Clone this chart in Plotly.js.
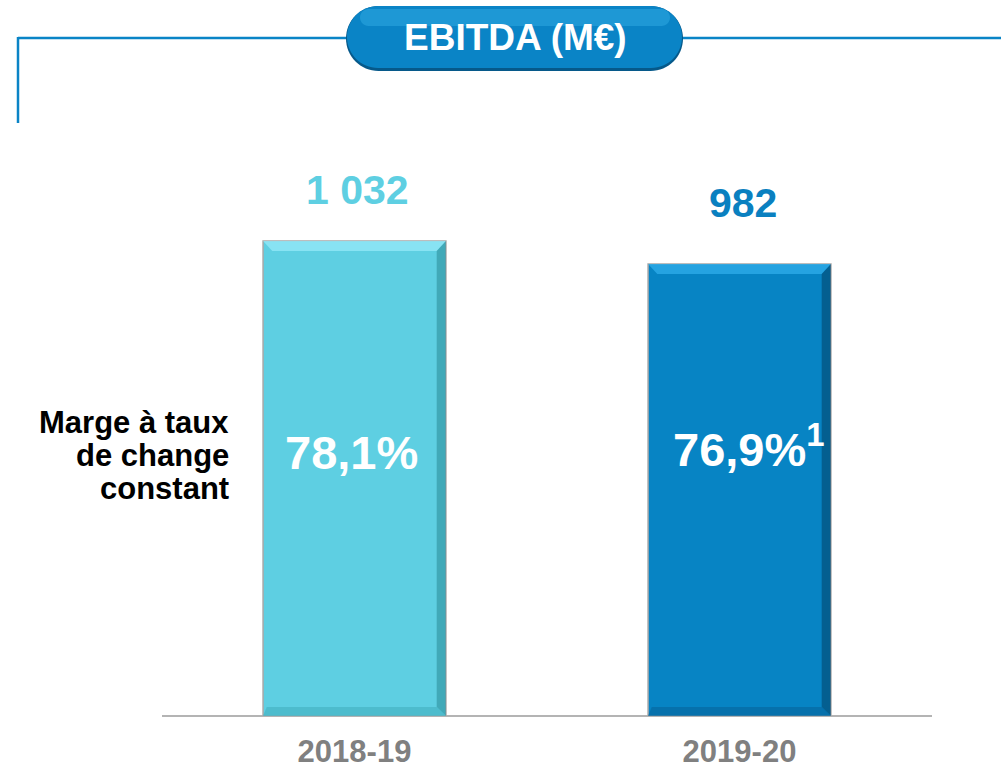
<!DOCTYPE html>
<html>
<head>
<meta charset="utf-8">
<script src="https://cdn.plot.ly/plotly-3.0.1.min.js"></script>
<style>html,body{margin:0;padding:0;background:#fff;}#chart{width:1001px;height:768px;}</style>
</head>
<body>
<div id="chart"></div>
<script>
const categories = ["2018-19", "2019-20"];
const ebitda = [1032, 982];
const valueLabels = ["1 032", "982"];
const marginLabels = ["78,1%", "76,9%<sup>1</sup>"];
const rowLabel = ["Marge à taux", "de change", "constant"];
const chartTitle = "EBITDA (M€)";

const W = 1001, H = 768;
const px = x => x / W;
const py = y => 1 - y / H;
const FONT = "Liberation Sans, Arial, sans-serif";
const barColors = ["#5ecfe2", "#0784c4"];
const topColors = ["#8fe6f6", "#2aa8e6"];
const edgeColors = ["#2f8f9c", "#04466e"];
const bottomColors = ["#46b3c4", "#056aa2"];
const labelColors = ["#5ecfe2", "#0a80c0"];
const BAR_W = 0.475;

function pillPath(x0, y0, x1, y1) {
  const r = (y1 - y0) / 2, k = 0.5523 * r;
  const P = (x, y) => px(x).toFixed(5) + "," + py(y).toFixed(5);
  return "M" + P(x0 + r, y0) + " L" + P(x1 - r, y0) +
    " C" + P(x1 - r + k, y0) + " " + P(x1, y0 + r - k) + " " + P(x1, y0 + r) +
    " C" + P(x1, y1 - r + k) + " " + P(x1 - r + k, y1) + " " + P(x1 - r, y1) +
    " L" + P(x0 + r, y1) +
    " C" + P(x0 + r - k, y1) + " " + P(x0, y1 - r + k) + " " + P(x0, y0 + r) +
    " C" + P(x0, y0 + r - k) + " " + P(x0 + r - k, y0) + " " + P(x0 + r, y0) + " Z";
}

const trace = {
  type: "bar",
  x: [0, 1],
  y: ebitda,
  width: BAR_W,
  marker: { color: barColors, line: { color: "#a8a8a8", width: 1.5 } },
  hoverinfo: "skip"
};

const annotations = [];
const valueShift = [26, 36];
categories.forEach((c, i) => {
  annotations.push({
    x: i, y: ebitda[i], xref: "x", yref: "y", yanchor: "bottom", yshift: valueShift[i], xshift: 3,
    text: "<b>" + valueLabels[i] + "</b>", showarrow: false,
    font: { family: FONT, size: 41, color: labelColors[i] }
  });
});
const innerY = [452, 446];
const innerDx = [-3, 9];
categories.forEach((c, i) => {
  annotations.push({
    x: i, xref: "x", xshift: innerDx[i], y: py(innerY[i]), yref: "paper", yanchor: "middle",
    text: "<b>" + marginLabels[i] + "</b>", showarrow: false,
    font: { family: FONT, size: 47, color: "#ffffff" }
  });
});
rowLabel.forEach((t, i) => {
  annotations.push({
    x: px(231), xref: "paper", xanchor: "right", y: py(422 + i * 33), yref: "paper", yanchor: "middle",
    text: "<b>" + t + "</b>", showarrow: false,
    font: { family: FONT, size: 31, color: "#000000" }
  });
});
annotations.push({
  x: px(515), xref: "paper", y: py(38), yref: "paper", yanchor: "middle",
  text: "<b>" + chartTitle + "</b>", showarrow: false,
  font: { family: FONT, size: 37, color: "#ffffff" }
});

const shapes = [
  { type: "line", xref: "paper", yref: "paper", x0: px(18), x1: px(1001), y0: py(38), y1: py(38), line: { color: "#0a84c6", width: 2.5 } },
  { type: "line", xref: "paper", yref: "paper", x0: px(18), x1: px(18), y0: py(37), y1: py(123), line: { color: "#0a84c6", width: 2.5 } },
  { type: "path", xref: "paper", yref: "paper", path: pillPath(346, 6, 683, 71), fillcolor: "#06598a", line: { width: 0 } },
  { type: "path", xref: "paper", yref: "paper", path: pillPath(347, 6, 682, 68), fillcolor: "#0a84c6", line: { width: 0 } },
  { type: "path", xref: "paper", yref: "paper", path: pillPath(360, 9, 670, 26), fillcolor: "#46bdf0", opacity: 0.35, line: { width: 0 } }
];

// bevel decoration derived from the bar data
const unitsPerPx = 1273 / 586;
ebitda.forEach((v, i) => {
  const L = i - BAR_W / 2, R = i + BAR_W / 2, e = 0.024;
  shapes.push({ type: "path", xref: "x", yref: "y", layer: "above",
    path: `M${L},${v} L${R},${v} L${R - e},${v - 10 * unitsPerPx} L${L + e},${v - 10 * unitsPerPx} Z`,
    fillcolor: topColors[i], opacity: 0.85, line: { width: 0 } });
  shapes.push({ type: "path", xref: "x", yref: "y", layer: "above",
    path: `M${R},${v} L${R},0 L${R - e},${9 * unitsPerPx} L${R - e},${v - 10 * unitsPerPx} Z`,
    fillcolor: edgeColors[i], opacity: 0.6, line: { width: 0 } });
  shapes.push({ type: "path", xref: "x", yref: "y", layer: "above",
    path: `M${L},0 L${R},0 L${R - e},${9 * unitsPerPx} L${L + e * 0.4},${9 * unitsPerPx} Z`,
    fillcolor: bottomColors[i], opacity: 0.7, line: { width: 0 } });
});

const layout = {
  width: W, height: H,
  margin: { l: 0, r: 0, t: 0, b: 0 },
  paper_bgcolor: "#ffffff", plot_bgcolor: "#ffffff",
  showlegend: false,
  xaxis: {
    domain: [px(162), px(932)], range: [-0.5, 1.5],
    tickmode: "array", tickvals: [0, 1], ticktext: categories.map(c => "<b>" + c + "</b>"),
    showgrid: false, zeroline: false, showline: false, ticks: "",
    tickfont: { family: FONT, size: 31, color: "#808080" }, ticklabelstandoff: 14
  },
  yaxis: {
    domain: [py(716), py(130)], range: [0, 1273],
    showgrid: false, zeroline: true, zerolinecolor: "#b4b4b4", zerolinewidth: 2,
    showline: false, showticklabels: false, ticks: ""
  },
  shapes: shapes,
  annotations: annotations
};

Plotly.newPlot("chart", [trace], layout, { displayModeBar: false, staticPlot: true });
</script>
</body>
</html>
